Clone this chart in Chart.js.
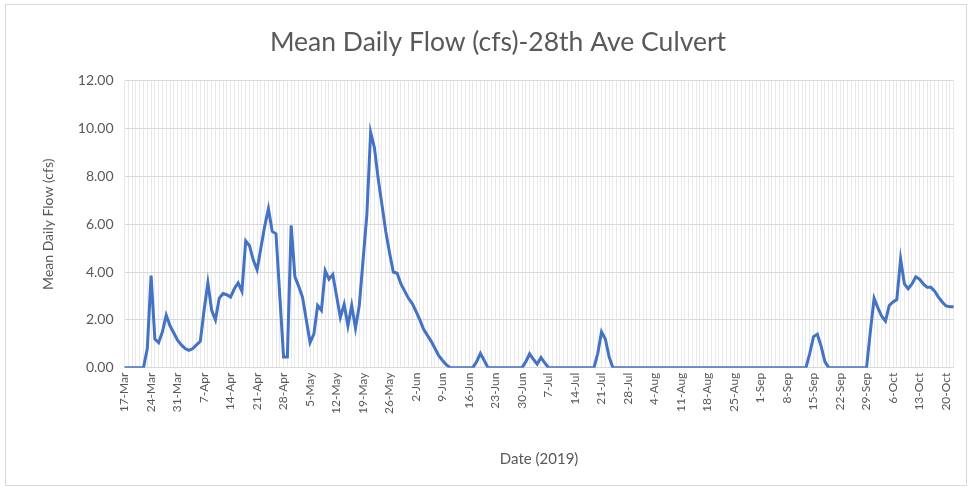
<!DOCTYPE html>
<html>
<head>
<meta charset="utf-8">
<title>Mean Daily Flow - 28th Ave Culvert</title>
<script src="https://cdn.jsdelivr.net/npm/chart.js@4.4.1/dist/chart.umd.min.js"></script>
<style>
  html, body { margin: 0; padding: 0; background: #fff; }
  #wrap {
    position: absolute; left: 5px; top: 4px;
    width: 962px; height: 482px;
    border: 1px solid #d9d9d9;
    box-sizing: border-box;
  }
  #chart { position: absolute; left: 0; top: 0; }
</style>
</head>
<body>
<div id="wrap"></div>
<canvas id="chart" width="973" height="491"></canvas>

<script>
// Daily data, 17-Mar-2019 to 22-Oct-2019
const startDate = new Date(2019, 2, 17);
const dayCount = 220;
const monthNames = ['Jan','Feb','Mar','Apr','May','Jun','Jul','Aug','Sep','Oct','Nov','Dec'];

const flowCfs = [
  0, 0, 0, 0, 0, 0, 0.8, 3.85, 1.2, 1.05,
  1.5, 2.2, 1.75, 1.45, 1.15, 0.95, 0.8, 0.72, 0.8, 0.95,
  1.1, 2.4, 3.55, 2.4, 2.0, 2.9, 3.1, 3.05, 2.95, 3.3,
  3.55, 3.2, 5.3, 5.1, 4.5, 4.1, 5.0, 5.9, 6.65, 5.7,
  5.6, 3.0, 0.45, 0.45, 5.95, 3.8, 3.4, 2.95, 2.0, 1.05,
  1.4, 2.6, 2.4, 4.05, 3.7, 3.9, 3.0, 2.1, 2.65, 1.75,
  2.6, 1.65, 2.6, 4.5, 6.4, 9.85, 9.2, 7.9, 6.8, 5.7,
  4.8, 4.0, 3.95, 3.5, 3.2, 2.9, 2.68, 2.35, 2.0, 1.6,
  1.35, 1.1, 0.8, 0.5, 0.3, 0.12, 0, 0, 0, 0,
  0, 0, 0, 0.25, 0.6, 0.3, 0, 0, 0, 0,
  0, 0, 0, 0, 0, 0, 0.25, 0.58, 0.35, 0.15,
  0.42, 0.2, 0, 0, 0, 0, 0, 0, 0, 0,
  0, 0, 0, 0, 0, 0.6, 1.5, 1.2, 0.45, 0,
  0, 0, 0, 0, 0, 0, 0, 0, 0, 0,
  0, 0, 0, 0, 0, 0, 0, 0, 0, 0,
  0, 0, 0, 0, 0, 0, 0, 0, 0, 0,
  0, 0, 0, 0, 0, 0, 0, 0, 0, 0,
  0, 0, 0, 0, 0, 0, 0, 0, 0, 0,
  0, 0.6, 1.3, 1.4, 0.9, 0.25, 0, 0, 0, 0,
  0, 0, 0, 0, 0, 0, 0, 1.5, 2.9, 2.5,
  2.15, 1.95, 2.6, 2.75, 2.85, 4.55, 3.5, 3.3, 3.5, 3.8,
  3.7, 3.5, 3.36, 3.36, 3.2, 2.95, 2.75, 2.58, 2.55, 2.55
];

const yTicks = [0, 2, 4, 6, 8, 10, 12];
const labelEvery = 7;

// build "17-Mar" style labels
const dateLabels = [];
for (let i = 0; i < dayCount; i++) {
  const d = new Date(startDate);
  d.setDate(startDate.getDate() + i);
  dateLabels.push(d.getDate() + '-' + monthNames[d.getMonth()]);
}

const textColor = '#595959';
const fontFam = 'Lato, "Open Sans", sans-serif';

new Chart(document.getElementById('chart'), {
  type: 'line',
  data: {
    labels: dateLabels,
    datasets: [{
      label: 'Mean Daily Flow (cfs)',
      data: flowCfs,
      borderColor: '#4472C4',
      borderWidth: 3,
      pointRadius: 0,
      tension: 0,
      fill: false
    }]
  },
  options: {
    responsive: false,
    animation: false,
    layout: { padding: { left: 26, right: 3, top: 0, bottom: 19 } },
    plugins: {
      legend: { display: false },
      tooltip: { enabled: false },
      title: {
        display: true,
        text: 'Mean Daily Flow (cfs)-28th Ave Culvert',
        color: textColor,
        font: { family: fontFam, size: 26.5, weight: 'normal' },
        padding: { top: 27, bottom: 22 }
      }
    },
    scales: {
      x: {
        offset: false,
        grid: { color: '#e9e9e9', drawTicks: false },
        border: { color: '#d9d9d9' },
        ticks: {
          autoSkip: false,
          minRotation: 90,
          maxRotation: 90,
          padding: 5,
          color: textColor,
          font: { family: fontFam, size: 12 },
          callback: function (val, i) {
            return i % labelEvery === 0 ? this.getLabelForValue(val) : '';
          }
        },
        title: {
          display: true,
          text: 'Date (2019)',
          color: textColor,
          font: { family: fontFam, size: 15 },
          padding: { top: 31, bottom: 4 }
        }
      },
      y: {
        min: yTicks[0],
        max: yTicks[yTicks.length - 1],
        grid: { color: '#d9d9d9', drawTicks: false },
        border: { display: false },
        afterBuildTicks: (axis) => {
          axis.ticks = yTicks.map(v => ({ value: v }));
        },
        ticks: {
          padding: 11,
          color: textColor,
          font: { family: fontFam, size: 14 },
          callback: (v) => Number(v).toFixed(2)
        },
        title: {
          display: true,
          text: 'Mean Daily Flow (cfs)',
          color: textColor,
          font: { family: fontFam, size: 14 },
          padding: { top: 14, bottom: 10 }
        }
      }
    }
  }
});
</script>
</body>
</html>
